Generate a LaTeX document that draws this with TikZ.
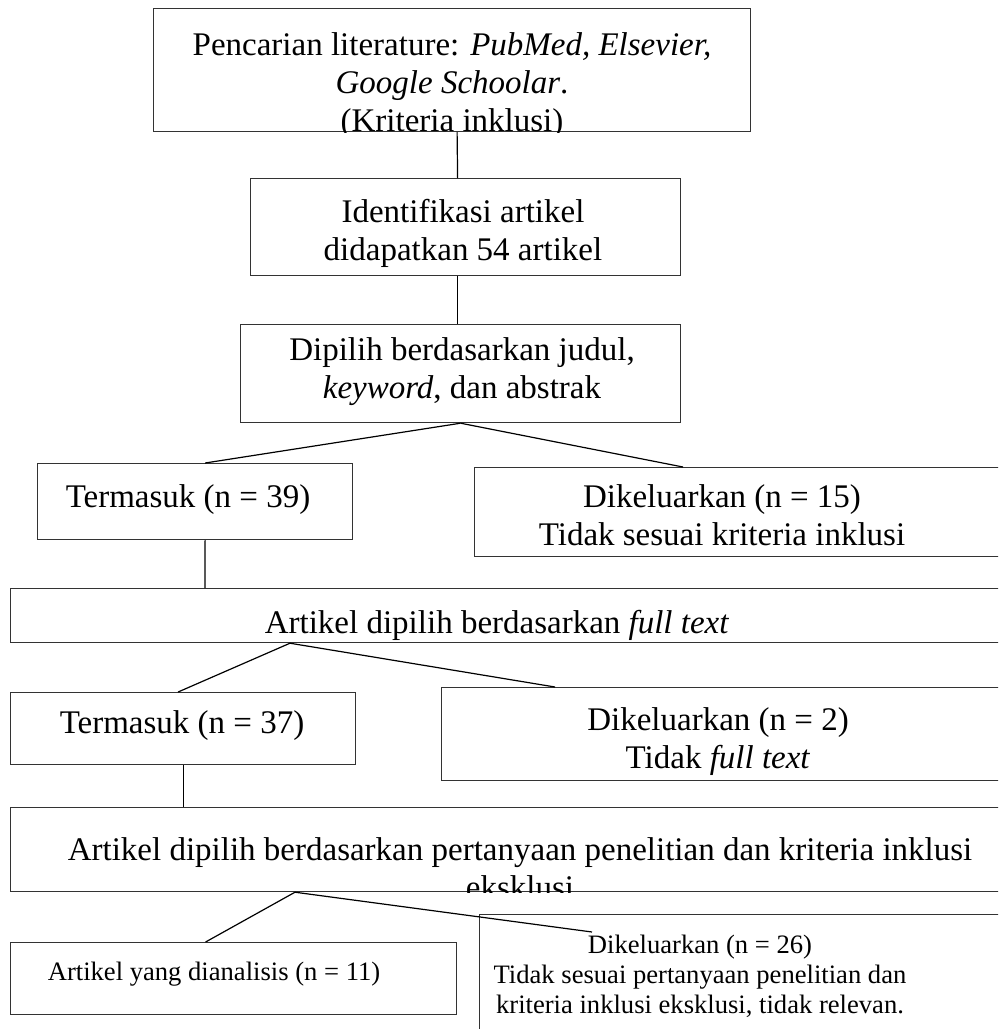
\documentclass[tikz,border=0pt]{standalone}
\usepackage{fontspec}
\setmainfont{Liberation Serif}
\usetikzlibrary{calc}

\begin{document}
\begin{tikzpicture}[x=0.5pt,y=-0.5pt,
    box/.style={draw=black!80,line width=0.6pt,rectangle,inner sep=0pt,anchor=north west},
    link/.style={draw=black,line width=0.6pt},
    txt/.style={font=\fontsize{16.5}{19}\selectfont,align=center,inner sep=0pt},
    smalltxt/.style={font=\fontsize{13.3}{15}\selectfont,align=center,inner sep=0pt}]

    \path[use as bounding box] (0,0) rectangle (998,1029);
    \clip (0,0) rectangle (998,1029);

    % Search and identification
    \node[box,minimum width=298.5pt,minimum height=61.5pt] (search) at (153,8) {};
    \begin{scope}
      \clip (search.north west) rectangle (search.south east);
      \node[txt] (searchtxt) at (452,86)
        {Pencarian literature: \textit{PubMed, Elsevier,}\\
         \textit{Google Schoolar}.\\ (Kriteria inklusi)};
    \end{scope}
    \node[box,minimum width=215pt,minimum height=48.5pt] (ident) at (250,178) {};
    \node[txt] (identtxt) at (463,233) {Identifikasi artikel\\ didapatkan 54 artikel};
    \node[box,minimum width=220pt,minimum height=49pt] (screen) at (240,324) {};
    \node[txt] (screentxt) at (462,372) {Dipilih berdasarkan judul,\\ \textit{keyword}, dan abstrak};

    % First split
    \node[box,minimum width=157.5pt,minimum height=38pt] (incA) at (37,463) {};
    \node[txt] (incAtxt) at (188,500) {Termasuk (n = 39)};
    \node[box,minimum width=270pt,minimum height=44.5pt] (excA) at (474,467) {};
    \node[txt] (excAtxt) at (722,515) {Dikeluarkan (n = 15)\\ Tidak sesuai kriteria inklusi};

    % Full text
    \node[box,minimum width=500pt,minimum height=27pt] (full) at (10,588) {};
    \node[txt,anchor=base] (fulltxt) at (497,633) {Artikel dipilih berdasarkan \textit{full text}};
    \node[box,minimum width=172.5pt,minimum height=36pt] (incB) at (10,692) {};
    \node[txt] (incBtxt) at (182,726) {Termasuk (n = 37)};
    \node[box,minimum width=285pt,minimum height=46.5pt] (excB) at (441,687) {};
    \node[txt] (excBtxt) at (718,742) {Dikeluarkan (n = 2)\\ Tidak \textit{full text}};

    % Research question
    \node[box,minimum width=500pt,minimum height=42pt] (quest) at (10,807) {};
    \begin{scope}
      \clip (quest.north west) rectangle (quest.south east);
      \node[txt] (questtxt) at (520,868)
        {Artikel dipilih berdasarkan pertanyaan penelitian dan kriteria inklusi\\ eksklusi};
    \end{scope}
    \node[box,minimum width=223pt,minimum height=36pt] (final) at (10,942) {};
    \node[smalltxt] (finaltxt) at (214,974) {Artikel yang dianalisis (n = 11)};
    \node[box,minimum width=270pt,minimum height=65pt] (excC) at (479,914) {};
    \node[smalltxt] (excCtxt) at (700,976)
      {Dikeluarkan (n = 26)\\ Tidak sesuai pertanyaan penelitian dan\\
       kriteria inklusi eksklusi, tidak relevan.};

    % Connectors
    \draw[link] ($(search.south)+(5,0)$) -- ($(ident.north)+(-8,0)$);
    \draw[link] ($(ident.south)+(-8,0)$) -- ($(screen.north)+(-3,0)$);
    \draw[link] (screen.south) -- ($(incA.north)+(10,0)$);
    \draw[link] (screen.south) -- ($(excA.north west)+(209,0)$);
    \draw[link] ($(incA.south)+(10,0)$) -- ($(full.north west)+(195,0)$);
    \draw[link] ($(full.south west)+(280,0)$) -- ($(incB.north)+(-5,0)$);
    \draw[link] ($(full.south west)+(280,0)$) -- ($(excB.north west)+(114,0)$);
    \draw[link] (incB.south) -- (incB.south |- quest.north);
    \draw[link] ($(quest.south west)+(285,0)$) -- ($(final.north)+(-28,0)$);
    \draw[link] ($(quest.south west)+(285,0)$) -- ($(excC.north west)+(113,18)$);
\end{tikzpicture}
\end{document}
